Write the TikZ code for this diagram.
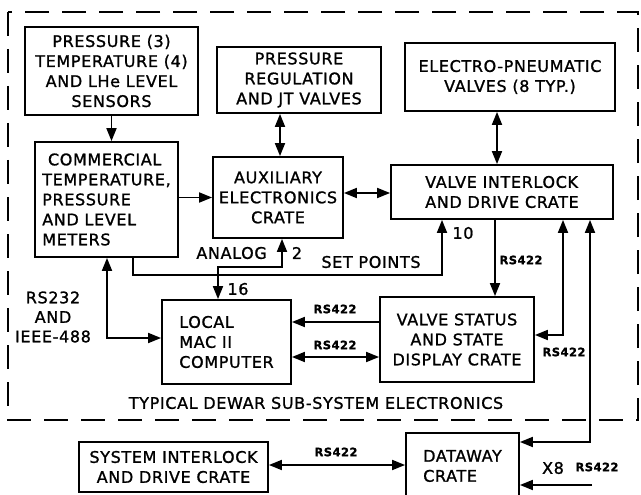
\documentclass[tikz,border=0pt]{standalone}
\usepackage{fontspec}
\setmainfont{DejaVu Sans}[LetterSpace=4,FakeBold=1.2]
\usetikzlibrary{arrows.meta}
\tikzset{
  box/.style={draw,line width=1.8pt,align=center,inner sep=2pt,
              font=\fontsize{16}{20}\selectfont},
  lbl/.style={inner sep=1pt,align=center,font=\fontsize{16}{19.5}\selectfont},
  sml/.style={inner sep=1pt,font=\fontsize{11.5}{12}\selectfont\bfseries},
  arr/.style={-{Triangle[length=13pt,width=10pt]},line width=1.8pt},
  dbl/.style={{Triangle[length=13pt,width=10pt]}-{Triangle[length=13pt,width=10pt]},line width=1.8pt}
}

\begin{document}
\begin{tikzpicture}[x=1pt,y=-1pt]
  \useasboundingbox (0,0) rectangle (641,495);
  \clip (0,0) rectangle (641,495);
  \draw[line width=1.8pt,dash pattern=on 24pt off 13pt] (8,12) rectangle (638,420);
  \node[box,minimum width=173pt,minimum height=88pt] (sens) at (111.5,71)
    {PRESSURE (3)\\TEMPERATURE (4)\\AND LHe LEVEL\\SENSORS};
  \node[box,align=left,minimum width=143pt,minimum height=115pt] (comm) at (106.5,199.5)
    {\ COMMERCIAL\\TEMPERATURE,\\PRESSURE\\AND LEVEL\\METERS};
  \node[box,minimum width=164pt,minimum height=66pt] (preg) at (299,80)
    {PRESSURE\\REGULATION\\AND JT VALVES};
  \node[box,minimum width=130pt,minimum height=81pt] (aux) at (278,197.5)
    {AUXILIARY\\ELECTRONICS\\CRATE};
  \node[box,minimum width=210pt,minimum height=68pt] (epv) at (510,77)
    {ELECTRO-PNEUMATIC\\VALVES (8 TYP.)};
  \node[box,align=left,minimum width=222pt,minimum height=54pt] (vid) at (502,192)
    {VALVE INTERLOCK\\AND DRIVE CRATE};
  \node[box,align=left,minimum width=129pt,minimum height=84pt] (mac) at (226.5,342)
    {LOCAL\\MAC II\\COMPUTER};
  \node[box,minimum width=154pt,minimum height=85pt] (vsd) at (457,339.5)
    {VALVE STATUS\\AND STATE\\DISPLAY CRATE};
  \node[box,minimum width=189pt,minimum height=50pt] (sid) at (173.5,467)
    {SYSTEM INTERLOCK\\AND DRIVE CRATE};
  \node[box,align=left,minimum width=113pt,minimum height=66pt] (dwy) at (462.5,466)
    {DATAWAY\\CRATE};
  \node[lbl] (ttl) at (316,403) {TYPICAL DEWAR SUB-SYSTEM ELECTRONICS};
  \draw[arr] (sens.south) -- (sens.south |- comm.north);
  \draw[arr] (comm.east |- aux.west) -- (aux.west);
  \draw[dbl] (preg.south -| 280,0) -- (aux.north -| 280,0);
  \draw[dbl] (aux.east |- 0,193) -- (vid.west |- 0,193);
  \draw[dbl] (epv.south -| 497,0) -- (vid.north -| 497,0);
  \draw[arr] (comm.south -| 133,0) |- (442,275) -- (vid.south -| 442,0);
  \draw[dbl] (mac.north -| 218,0) |- (282,267) -- (aux.south -| 282,0);
  \draw[dbl] (comm.south -| 107,0) |- (mac.west |- 0,338);
  \draw[arr] (vid.south -| 495,0) -- (vsd.north -| 495,0);
  \draw[arr] (vsd.west |- 0,322) -- (mac.east |- 0,322);
  \draw[dbl] (mac.east |- 0,357) -- (vsd.west |- 0,357);
  \draw[dbl] (vid.south -| 563,0) |- (vsd.east |- 0,335);
  \draw[dbl] (vid.south -| 590,0) |- (dwy.east |- 0,442);
  \draw[dbl] (dwy.west |- 0,465) -- (sid.east |- 0,465);
  \coordinate (x8) at (592,485);
  \draw[arr] (x8) -- (dwy.east |- x8);
  \node[lbl] (setp) at (371,262) {SET POINTS};
  \node[lbl,anchor=east] (anlg) at (268,253) {ANALOG};
  \node[lbl] (n2) at (297,253) {2};
  \node[lbl] (n16) at (238,289) {16};
  \node[lbl] (n10) at (463,233) {10};
  \node[lbl] (rs232) at (53,317) {RS232\\AND\\IEEE-488};
  \node[lbl] (x8l) at (553,468) {X8};
  \node[sml] (rs1) at (521,260) {RS422};
  \node[sml] (rs2) at (335,309) {RS422};
  \node[sml] (rs3) at (335,345) {RS422};
  \node[sml] (rs4) at (564,352) {RS422};
  \node[sml] (rs5) at (336,452) {RS422};
  \node[sml] (rs6) at (597,467) {RS422};
\end{tikzpicture}
\end{document}
